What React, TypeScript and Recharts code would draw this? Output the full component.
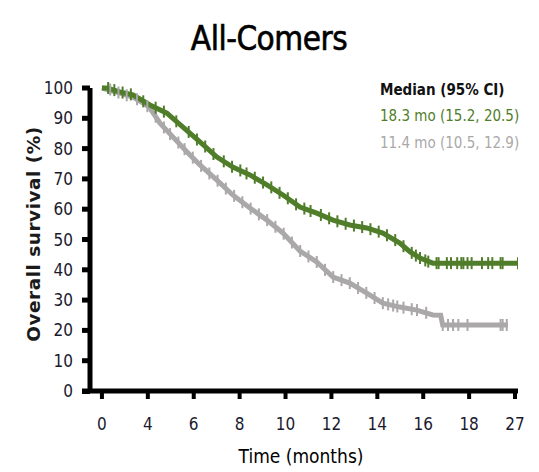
import { ComposedChart, Line, Scatter, XAxis, YAxis } from "recharts"

// the time axis is evenly spaced; the figure's labels are kept as printed
const xTickValues = [0, 2, 4, 6, 8, 10, 12, 14, 16, 18]
const xTickLabels = ["0", "4", "6", "8", "10", "12", "14", "16", "18", "27"]
const yTickValues = [0, 10, 20, 30, 40, 50, 60, 70, 80, 90, 100]

const greenTimes = [0, 0.22, 0.78, 1.35, 2.09, 2.83, 3.53, 4.27, 5.01, 5.7, 6.45, 7.19, 7.89, 8.63, 9.36, 10.07, 10.8, 11.54, 12.24, 12.98, 13.43, 13.86, 14.42, 18.13]
const greenSurv = [100, 100, 98.7, 97.7, 94.4, 91.7, 87.1, 82.2, 77.2, 73.9, 71.3, 68.0, 64.7, 60.7, 58.7, 56.4, 54.8, 53.8, 52.1, 48.8, 45.9, 43.9, 42.2, 42.2]

const greyTimes = [0, 0.78, 1.35, 1.87, 2.09, 2.53, 3.1, 3.71, 4.27, 5.01, 5.7, 6.45, 7.19, 7.89, 8.63, 9.36, 10.07, 10.8, 11.54, 12.24, 12.98, 13.72, 14.42, 14.76, 14.85, 17.69]
const greySurv = [100, 98.3, 97, 94.7, 93.4, 88.4, 83.8, 78.9, 74.6, 69.6, 64.7, 60.4, 56.4, 52.1, 46.2, 42.6, 37.6, 35.6, 32.3, 29.0, 27.7, 26.7, 25.1, 25.0, 21.8, 21.8]

// censored observations [time, survival]
const greenCensored = [
  [0.27, 100], [0.54, 99.3], [0.9, 98.5], [1.26, 97.9], [1.8, 95.6], [2.34, 93.5], [2.7, 92.2], [3.24, 89],
  [3.78, 85.5], [4.14, 83], [4.5, 80.7], [4.86, 78.2], [5.31, 75.8], [5.67, 74], [6.03, 72.8], [6.3, 71.8],
  [6.66, 70.4], [7.02, 68.8], [7.38, 67.2], [7.74, 65.4], [8.1, 63.6], [8.46, 61.6], [8.82, 60.2], [9.09, 59.4],
  [9.54, 58.1], [9.9, 57], [10.26, 56], [10.62, 55.2], [10.98, 54.6], [11.34, 54.1], [11.7, 53.4], [12.06, 52.6],
  [12.42, 51.4], [12.78, 49.8], [13.14, 47.8], [13.5, 45.6], [13.68, 44.7], [13.86, 43.9], [14.09, 43.1], [14.22, 42.7],
  [14.58, 42.2], [14.67, 42.2], [15.03, 42.2], [15.21, 42.2], [15.48, 42.2], [15.66, 42.2], [15.75, 42.2], [15.93, 42.2],
  [16.11, 42.2], [16.56, 42.2], [16.83, 42.2], [17.01, 42.2], [17.37, 42.2], [17.46, 42.2], [18.13, 42.2],
]
const greyCensored = [
  [0.36, 99.5], [0.72, 98.5], [1.08, 97.6], [1.53, 96.3], [1.98, 94], [2.34, 90.5], [2.7, 87], [2.97, 84.8],
  [3.33, 82], [3.6, 79.8], [3.96, 77], [4.32, 74.3], [4.68, 71.8], [5.04, 69.4], [5.4, 66.8], [5.76, 64.4],
  [6.12, 62.3], [6.48, 60.2], [6.84, 58.3], [7.2, 56.4], [7.56, 54.2], [7.92, 51.9], [8.28, 49], [8.64, 46.2],
  [9.0, 44.4], [9.36, 42.6], [9.72, 40], [10.08, 37.6], [10.44, 36.6], [10.8, 35.6], [11.16, 34], [11.52, 32.4],
  [11.88, 30.7], [12.24, 29.0], [12.47, 28.6], [12.69, 28.2], [12.87, 27.9], [13.14, 27.5], [13.5, 27], [13.73, 26.7],
  [14.13, 25.8], [14.85, 21.8], [15.08, 21.8], [15.3, 21.8], [15.53, 21.8], [15.93, 21.8], [17.37, 21.8], [17.46, 21.8], [17.64, 21.8],
]

const GREEN = "#507d2a"
const GREY = "#aaa8a8"
const FONT = "'Liberation Sans Narrow', 'DejaVu Sans Condensed', sans-serif"

const toRows = (t: number[], s: number[]) => t.map((v, i) => ({ t: v, s: s[i] }))
const toPoints = (arr: number[][]) => arr.map(([t, s]) => ({ t, s }))

const censorMark = (color: string) => (props: any) => {
  const { cx, cy } = props
  return <line x1={cx} x2={cx} y1={cy - 6} y2={cy + 6} stroke={color} strokeWidth={2} />
}

export default function App() {
  return (
    <div style={{ position: "absolute", left: 0, top: 0, width: 539, height: 472, background: "#fff" }}>
      <ComposedChart width={539} height={472} margin={{ top: 88, right: 21, bottom: 51, left: 0 }}>
        <XAxis
          dataKey="t"
          type="number"
          domain={[-0.52, 18.13]}
          ticks={xTickValues}
          tickFormatter={(v: number) => xTickLabels[xTickValues.indexOf(v)]}
          allowDataOverflow
          height={30}
          axisLine={{ stroke: "#000", strokeWidth: 5 }}
          tickLine={{ stroke: "#000", strokeWidth: 4 }}
          tickSize={8}
          tickMargin={19}
          tick={{ fill: "#1a1a2e", fontSize: 17, fontFamily: FONT }}
        />
        <YAxis
          dataKey="s"
          type="number"
          domain={[0, 100]}
          ticks={yTickValues}
          width={90}
          axisLine={{ stroke: "#000", strokeWidth: 5 }}
          tickLine={{ stroke: "#000", strokeWidth: 5 }}
          tickSize={8}
          tickMargin={9}
          tick={{ fill: "#1a1a2e", fontSize: 17, fontFamily: FONT }}
        />
        <Line data={toRows(greyTimes, greySurv)} dataKey="s" type="linear" stroke={GREY} strokeWidth={5} dot={false} isAnimationActive={false} />
        <Scatter data={toPoints(greyCensored)} dataKey="s" shape={censorMark(GREY)} isAnimationActive={false} />
        <Line data={toRows(greenTimes, greenSurv)} dataKey="s" type="linear" stroke={GREEN} strokeWidth={5} dot={false} isAnimationActive={false} />
        <Scatter data={toPoints(greenCensored)} dataKey="s" shape={censorMark(GREEN)} isAnimationActive={false} />
      </ComposedChart>
      <svg width={539} height={472} style={{ position: "absolute", left: 0, top: 0, pointerEvents: "none" }}>
        <line x1={82} x2={90} y1={391.5} y2={391.5} stroke="#000" strokeWidth={5} />
        <text x={269} y={50} textAnchor="middle" fontFamily={FONT} fontSize={33} letterSpacing={-0.5} fill="#000" stroke="#000" strokeWidth={0.6}>All-Comers</text>
        <text x={380} y={95} fontFamily={FONT} fontSize={15} fontWeight="bold" fill="#111">Median (95% CI)</text>
        <text x={380} y={121} fontFamily={FONT} fontSize={15} fill={GREEN}>18.3 mo (15.2, 20.5)</text>
        <text x={380} y={148} fontFamily={FONT} fontSize={15} fill={GREY}>11.4 mo (10.5, 12.9)</text>
        <text x={301} y={463} textAnchor="middle" fontFamily={FONT} fontSize={19} fill="#000">Time (months)</text>
        <text
          transform="translate(40, 234) rotate(-90)"
          textAnchor="middle"
          fontFamily="'DejaVu Sans', Verdana, sans-serif"
          fontWeight="bold"
          fontSize={18.5}
          letterSpacing={0.5}
          fill="#1a1a1a"
        >
          Overall survival (%)
        </text>
      </svg>
    </div>
  )
}
